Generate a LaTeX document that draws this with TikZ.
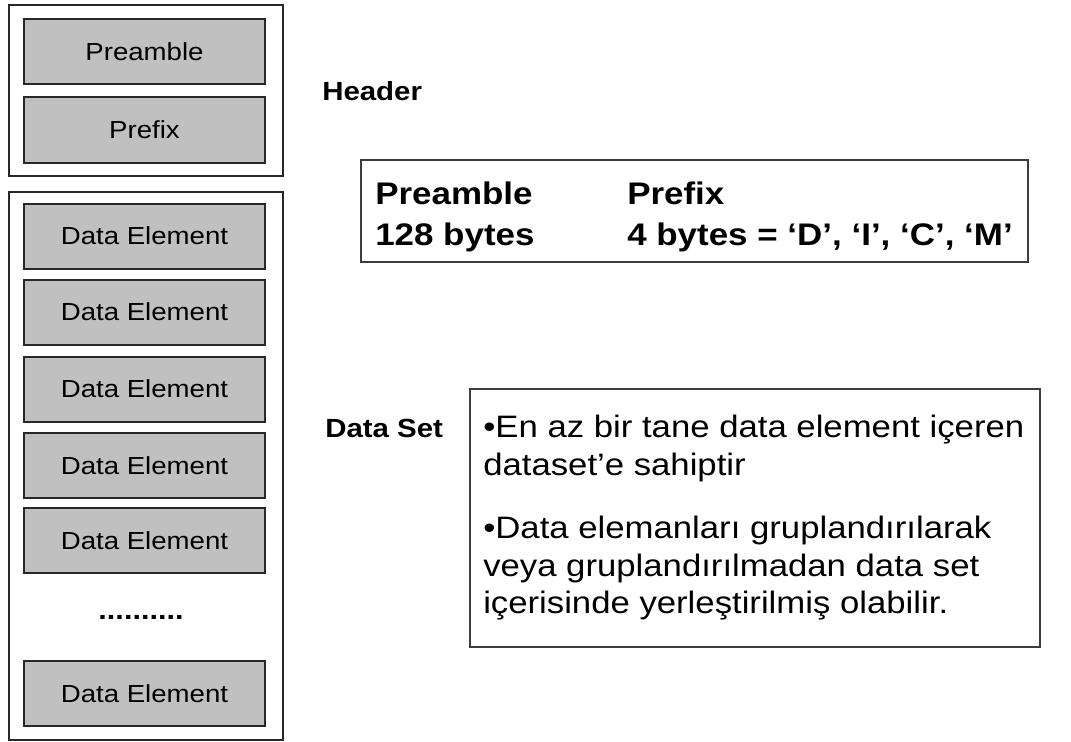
\documentclass[tikz,border=0pt]{standalone}
\usepackage{fontspec}
\setmainfont[FakeStretch=1.12]{Liberation Sans}
\definecolor{boxgray}{RGB}{192,192,192}
\definecolor{edge}{RGB}{40,40,40}
\begin{document}
\begin{tikzpicture}[x=0.75pt,y=-0.75pt,
  gbox/.style={draw=edge, line width=1.5pt, fill=boxgray, minimum width=180.75pt, minimum height=48.75pt, inner sep=0pt, font=\fontsize{18.5}{20}\selectfont},
  frame/.style={draw=edge, line width=1.5pt, inner sep=0pt, minimum width=205.5pt},
  infobox/.style={draw=edge!90, line width=1pt, inner sep=0pt},
  lbl/.style={anchor=base west, inner sep=0pt, font=\fontsize{19.7}{22}\selectfont\bfseries},
  big/.style={anchor=base west, inner sep=0pt, font=\fontsize{23.4}{26}\selectfont\bfseries},
  body/.style={anchor=base west, inner sep=0pt, font=\fontsize{23.25}{26}\selectfont},
]
\useasboundingbox[fill=white] (0,0) rectangle (1071,742);

% left column frames
\node[frame, minimum height=128.25pt] (hdrframe) at (146,90.5) {};
\node[frame, minimum height=411pt] (dataframe) at (146,466) {};

% header boxes
\node[gbox] (pre) at (144.5,51.5) {Preamble};
\node[gbox] (pfx) at (144.5,130) {Prefix};

% data element boxes
\node[gbox] (de1) at (144.5,236) {Data Element};
\node[gbox] (de2) at (144.5,312) {Data Element};
\node[gbox] (de3) at (144.5,389) {Data Element};
\node[gbox] (de4) at (144.5,465.5) {Data Element};
\node[gbox] (de5) at (144.5,540.5) {Data Element};
\node[inner sep=0pt, font=\fontsize{20.5}{22}\selectfont\bfseries] (dots) at (141,617) {..........};
\node[gbox] (de6) at (144.5,693.5) {Data Element};

% labels
\node[lbl] (hlabel) at (322,101) {Header};
\node[lbl] (dlabel) at (325,437) {Data Set};

% header info box
\node[infobox, minimum width=500.25pt, minimum height=76.5pt] (hinfo) at (694.5,211) {};
\node[big] (t1) at (375,204) {Preamble};
\node[big] (t2) at (375,245) {128 bytes};
\node[big] (t3) at (627,204) {Prefix};
\node[big] (t4) at (627,245) {4 bytes = ‘D’, ‘I’, ‘C’, ‘M’};

% data set info box
\node[infobox, minimum width=427.5pt, minimum height=193.5pt] (dinfo) at (755,518) {};
\node[body] (b1) at (483,437) {•En az bir tane data element içeren};
\node[body] (b2) at (483,475) {dataset’e sahiptir};
\node[body] (b3) at (483,538) {•Data elemanları gruplandırılarak};
\node[body] (b4) at (483,576) {veya gruplandırılmadan data set};
\node[body] (b5) at (483,613) {içerisinde yerleştirilmiş olabilir.};
\end{tikzpicture}
\end{document}
